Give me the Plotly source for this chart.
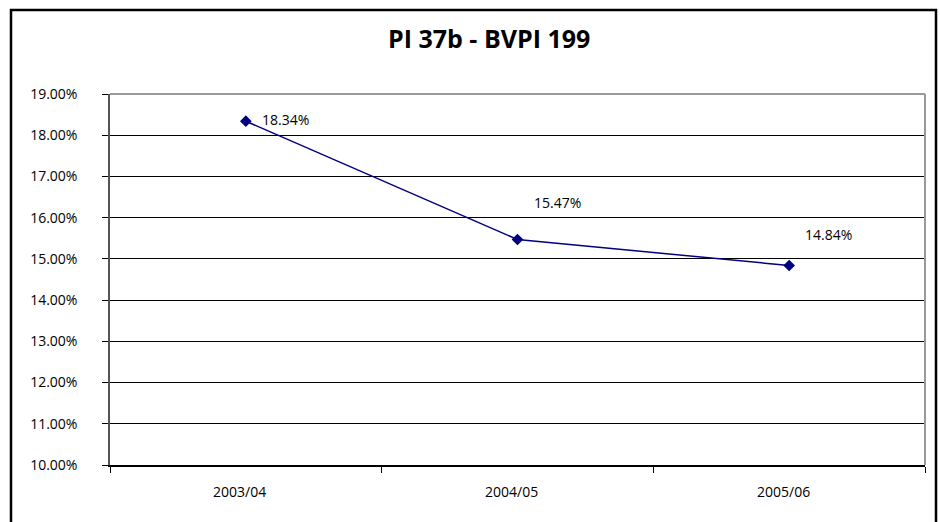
import plotly.graph_objects as go

categories = ["2003/04", "2004/05", "2005/06"]
values = [18.34, 15.47, 14.84]
label_texts = ["18.34%", "15.47%", "14.84%"]
label_dy = [2, 37, 31]
ytick_vals = [10, 11, 12, 13, 14, 15, 16, 17, 18, 19]
ytick_text = ["%.2f%%" % v for v in ytick_vals]

FONT = "Open Sans"
W, H = 940, 522
L, R, T, B = 110, 15, 94, 57
pw, ph = W - L - R, H - T - B

fig = go.Figure()
fig.add_trace(go.Scatter(
    x=[0, 1, 2], y=values, mode="lines+markers",
    line=dict(color="#000080", width=1.5),
    marker=dict(symbol="diamond", size=9, color="#000080"),
    hoverinfo="skip", showlegend=False,
))

for i, (v, t, dy) in enumerate(zip(values, label_texts, label_dy)):
    fig.add_annotation(x=i, y=v, text=t, showarrow=False, xanchor="left", yanchor="middle",
                       xshift=14, yshift=dy, font=dict(family=FONT, size=14, color="black"))

# category labels
for i, c in enumerate(categories):
    fig.add_annotation(x=i, y=0, yref="paper", text=c, showarrow=False, yanchor="top",
                       xshift=-6, yshift=-15, font=dict(family=FONT, size=14, color="black"))

# outer border
fig.add_shape(type="rect", xref="paper", yref="paper",
              x0=(11 - L) / pw, x1=(936 - L) / pw,
              y0=(H - T - 540) / ph, y1=(ph + T - 10) / ph,
              line=dict(color="black", width=2.5), layer="below")

fig.add_annotation(xref="paper", yref="paper", x=(489 - L) / pw, y=(ph + T - 38) / ph,
                   text="<b>PI 37b - BVPI 199</b>", showarrow=False, xanchor="center", yanchor="middle",
                   font=dict(family=FONT, size=25, color="black"))

fig.update_layout(
    width=W, height=H,
    margin=dict(l=L, r=R, t=T, b=B),
    paper_bgcolor="white", plot_bgcolor="white",
    xaxis=dict(range=[-0.5, 2.5], tickvals=[-0.5, 0.5, 1.5, 2.5], showticklabels=False,
               ticks="outside", ticklen=6, tickcolor="black", showgrid=False, zeroline=False,
               showline=True, linecolor="black", linewidth=1.5, fixedrange=True),
    yaxis=dict(range=[10, 19], tickvals=ytick_vals, ticktext=ytick_text,
               ticks="outside", ticklen=6, tickcolor="black", ticklabelstandoff=22,
               showgrid=True, gridcolor="black", gridwidth=1, zeroline=False,
               showline=True, linecolor="#555555", linewidth=1.5,
               tickfont=dict(family=FONT, size=14, color="black"), fixedrange=True),
)
# plot-area gray border top and right
fig.add_shape(type="line", xref="paper", yref="paper", x0=0, x1=1, y0=1, y1=1,
              line=dict(color="#999999", width=2))
fig.add_shape(type="line", xref="paper", yref="paper", x0=1, x1=1, y0=0, y1=1,
              line=dict(color="#999999", width=2))

fig.write_html("out.html", config={"displayModeBar": False},
               post_script="document.body.style.margin='0';")
